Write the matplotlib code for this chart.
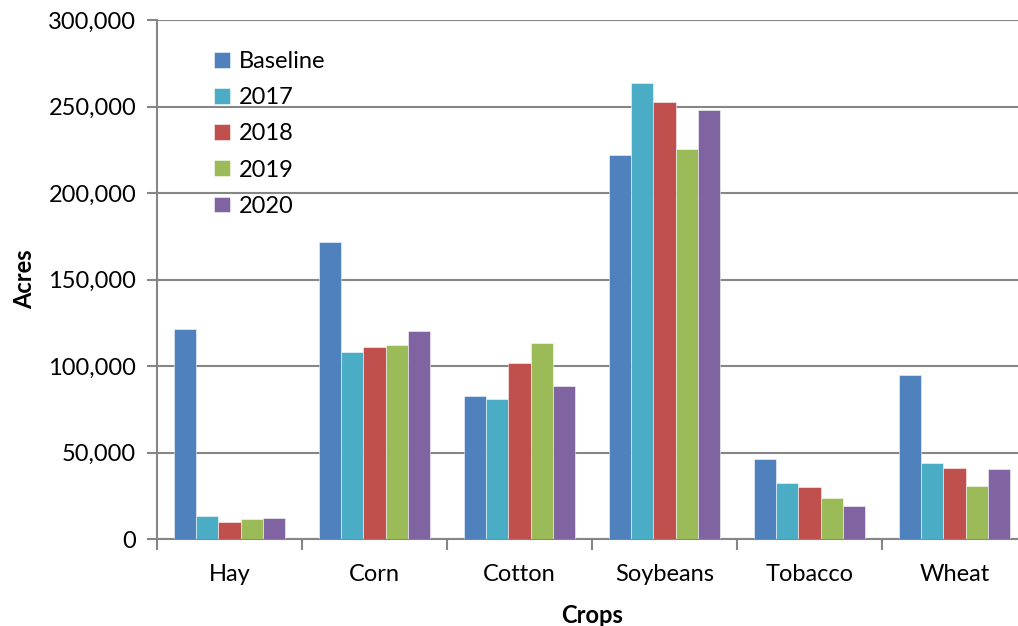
import matplotlib
matplotlib.use("Agg")
import matplotlib.pyplot as plt
import numpy as np
from matplotlib.ticker import FuncFormatter, FixedLocator

plt.rcParams['font.family'] = ['Lato', 'DejaVu Sans']

crops = ["Hay", "Corn", "Cotton", "Soybeans", "Tobacco", "Wheat"]
series_names = ["Baseline", "2017", "2018", "2019", "2020"]
baseline = [121500, 171500, 82800, 222000, 46400, 95000]
y2017 = [13100, 108300, 80900, 263400, 32500, 44100]
y2018 = [9900, 111000, 101700, 252800, 30200, 41200]
y2019 = [11700, 112000, 113500, 225400, 23500, 30400]
y2020 = [12200, 120000, 88200, 248200, 19200, 40600]
yticks = [0, 50000, 100000, 150000, 200000, 250000, 300000]

series = [baseline, y2017, y2018, y2019, y2020]
colors = ["#4F81BD", "#4BACC6", "#C0504D", "#9BBB59", "#8064A2"]

FS = 17

fig = plt.figure(figsize=(10.18, 6.26), dpi=100)
ax = fig.add_axes([157/1018, (626-539)/626, (1027-157)/1018, (539-20)/626])

n = len(series)
group_w = 0.77
bw = group_w / n
x = np.arange(len(crops))
for i, (vals, name, c) in enumerate(zip(series, series_names, colors)):
    ax.bar(x - group_w/2 + bw*(i+0.5), vals, width=bw, color=c, label=name,
           edgecolor=(1, 1, 1, 0.6), linewidth=0.6, zorder=3)

ax.set_xlim(-0.5, len(crops) - 0.5)
ax.set_ylim(0, 300000)
ax.set_yticks(yticks)
ax.yaxis.set_major_formatter(FuncFormatter(lambda v, p: f"{int(v):,}"))
ax.yaxis.grid(True, color="#868686", linewidth=1.5, zorder=0)
ax.set_axisbelow(True)

ax.set_xticks(x)
ax.set_xticklabels(crops)
ax.xaxis.set_minor_locator(FixedLocator(np.arange(-0.5, len(crops), 1.0)))
ax.tick_params(axis='x', which='major', length=0, pad=18, labelsize=FS)
ax.tick_params(axis='x', which='minor', length=8, width=1.5, color="#868686")
ax.tick_params(axis='y', which='major', length=7, width=1.5, color="#868686", labelsize=FS, pad=8)

for s in ["top", "right"]:
    ax.spines[s].set_visible(False)
for s in ["left", "bottom"]:
    ax.spines[s].set_color("#868686")
    ax.spines[s].set_linewidth(1.5)

ax.set_ylabel("Acres", fontsize=FS, fontweight="bold", labelpad=9)
ax.set_xlabel("Crops", fontsize=FS, fontweight="bold", labelpad=14)

leg = ax.legend(loc="upper left", bbox_to_anchor=(0.055, 0.958), frameon=False,
                fontsize=FS, handlelength=0.65, handleheight=0.65, handletextpad=0.4,
                labelspacing=0.64, borderaxespad=0)

fig.savefig("out.png", dpi=100)
